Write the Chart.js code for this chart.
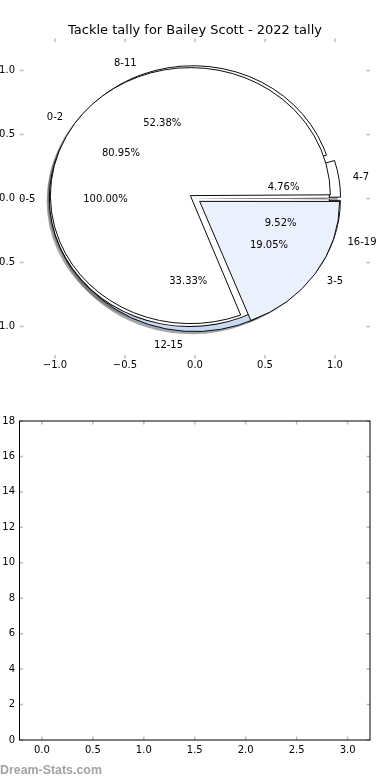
<!DOCTYPE html>
<html lang="en">
<head>
<meta charset="UTF-8" />
<title>Tackle tally for Bailey Scott - 2022 tally</title>
<script src="https://cdn.jsdelivr.net/npm/chart.js"></script>
<style>
  body {
    margin: 0;
    width: 390px;
    height: 780px;
    position: relative;
    overflow: hidden;
    background: #ffffff;
  }
  canvas {
    position: absolute;
    left: 0;
    top: 0;
  }
  #barAxes {
    top: 390px;
  }
  #watermark {
    position: absolute;
    left: 0;
    top: 763px;
    font: bold 12.4px "Liberation Sans", sans-serif;
    line-height: 14px;
    color: #a3a3a3;
  }
</style>
</head>
<body>
  <!-- shadows first, then the three pies in drawing order, then the axes on top -->
  <canvas id="shadowHigh" width="390" height="390"></canvas>
  <canvas id="shadowAll" width="390" height="390"></canvas>
  <canvas id="shadowLow" width="390" height="390"></canvas>
  <canvas id="pieHigh" width="390" height="390"></canvas>
  <canvas id="pieAllRim" width="390" height="390"></canvas>
  <canvas id="pieAll" width="390" height="390"></canvas>
  <canvas id="pieLow" width="390" height="390"></canvas>
  <canvas id="pieAxes" width="390" height="390"></canvas>
  <canvas id="barAxes" width="390" height="390"></canvas>
  <div id="watermark">Dream-Stats.com</div>

<script>
  const chartTitle = "Tackle tally for Bailey Scott - 2022 tally";

  // three pies drawn over each other (games per tackle range, 21 games)
  const allLabels = ["0-5"];
  const allValues = [21];
  const lowLabels = ["0-2", "3-5"];
  const lowValues = [17, 4];
  const highLabels = ["4-7", "8-11", "12-15", "16-19"];
  const highValues = [1, 11, 7, 2];

  const pieTicks = [-1, -0.5, 0, 0.5, 1];
  const barXTicks = [0, 0.5, 1, 1.5, 2, 2.5, 3];
  const barYTicks = [0, 2, 4, 6, 8, 10, 12, 14, 16, 18];

  const allColors = ["#ffffff"];
  const lowColors = ["#ffffff", "#ebf1fc"];
  const highColors = ["#ffffff", "#ffffff", "#c7d9f5", "#ffffff"];

  const FONT = "DejaVu Sans";
  const EXPLODE = 0.04;
  const SHADOW_SHIFT = 0.02;
  const PIE_LIM = 1.25;
  const PIE_PAD = { left: 20, top: 38.5, right: 20, bottom: 31.5 };
  const UNIT_X = (390 - PIE_PAD.left - PIE_PAD.right) / (2 * PIE_LIM);
  const UNIT_Y = (390 - PIE_PAD.top - PIE_PAD.bottom) / (2 * PIE_LIM);
  const SHADOW_PAD = {
    left: PIE_PAD.left - SHADOW_SHIFT * UNIT_X,
    right: PIE_PAD.right + SHADOW_SHIFT * UNIT_X,
    top: PIE_PAD.top + SHADOW_SHIFT * UNIT_Y,
    bottom: PIE_PAD.bottom - SHADOW_SHIFT * UNIT_Y
  };
  const SHADOW = "rgba(77,77,77,0.5)";

  // chart.js grows offset arcs, undo that and squash the pie to the axes aspect
  const pieFix = {
    id: "pieFix",
    beforeDatasetsDraw(chart, args, opts) {
      const a = chart.chartArea;
      const unit = (a.right - a.left) / (2 * PIE_LIM);
      const push = EXPLODE * unit;
      chart.getDatasetMeta(0).data.forEach(arc => {
        const fix = 1 - Math.sin(Math.min(Math.PI, arc.circumference));
        arc.outerRadius = unit + (opts.rim || 0) - push * fix;
      });
      const cy = (a.top + a.bottom) / 2;
      const ctx = chart.ctx;
      ctx.save();
      ctx.translate(0, cy);
      ctx.scale(1, (a.bottom - a.top) / (a.right - a.left));
      ctx.translate(0, -cy);
    },
    afterDatasetsDraw(chart) {
      chart.ctx.restore();
    }
  };

  function makePie(id, labels, values, colors, pad, border, rim) {
    return new Chart(document.getElementById(id), {
      type: "pie",
      data: {
        labels: labels.slice().reverse(),
        datasets: [{
          data: values.slice().reverse(),
          backgroundColor: colors.slice().reverse(),
          borderColor: "#000000",
          borderWidth: border,
          rotation: 90,
          radius: UNIT_X,
          offset: 4 * EXPLODE * UNIT_X
        }]
      },
      options: {
        responsive: false,
        animation: false,
        events: [],
        layout: { padding: pad },
        plugins: {
          legend: { display: false },
          tooltip: { enabled: false },
          pieFix: { rim: rim }
        }
      },
      plugins: [pieFix]
    });
  }

  const shade = arr => arr.map(() => SHADOW);

  makePie("shadowHigh", highLabels, highValues, shade(highValues), SHADOW_PAD, 0, 0);
  makePie("shadowAll", allLabels, allValues, shade(allValues), SHADOW_PAD, 0, 0);
  makePie("shadowLow", lowLabels, lowValues, shade(lowValues), SHADOW_PAD, 0, 0);
  makePie("pieHigh", highLabels, highValues, highColors, PIE_PAD, 1, 0);
  // full circle: black disc under a white one gives the outline without a seam
  makePie("pieAllRim", allLabels, allValues, ["#000000"], PIE_PAD, 0, 0.5);
  makePie("pieAll", allLabels, allValues, allColors, PIE_PAD, 0, -0.5);
  makePie("pieLow", lowLabels, lowValues, lowColors, PIE_PAD, 1, 0);

  const innerTicks = {
    id: "innerTicks",
    afterDraw(chart, args, opts) {
      const { ctx, chartArea: a, scales } = chart;
      ctx.save();
      ctx.strokeStyle = opts.color;
      ctx.lineWidth = opts.width;
      ctx.beginPath();
      scales.x.ticks.forEach(t => {
        const px = scales.x.getPixelForValue(t.value);
        ctx.moveTo(px, a.top);
        ctx.lineTo(px, a.top + opts.len);
        ctx.moveTo(px, a.bottom);
        ctx.lineTo(px, a.bottom - opts.len);
      });
      scales.y.ticks.forEach(t => {
        const py = scales.y.getPixelForValue(t.value);
        ctx.moveTo(a.left, py);
        ctx.lineTo(a.left + opts.len, py);
        ctx.moveTo(a.right, py);
        ctx.lineTo(a.right - opts.len, py);
      });
      ctx.stroke();
      if (opts.frame) {
        ctx.strokeStyle = "#000000";
        ctx.lineWidth = 1;
        ctx.strokeRect(a.left, a.top, a.right - a.left, a.bottom - a.top);
      }
      ctx.restore();
    }
  };

  const pieText = {
    id: "pieText",
    afterDraw(chart) {
      const { ctx, scales: { x, y } } = chart;
      ctx.save();
      ctx.font = `10px "${FONT}"`;
      ctx.fillStyle = "#000000";
      ctx.textBaseline = "middle";
      [[allLabels, allValues], [lowLabels, lowValues], [highLabels, highValues]].forEach(([labels, values]) => {
        const total = values.reduce((s, v) => s + v, 0);
        let cum = 0;
        values.forEach((v, i) => {
          const mid = 2 * Math.PI * (cum + v / 2) / total;
          cum += v;
          const cx = Math.cos(mid), cy = Math.sin(mid);
          const lr = EXPLODE + 1.1, pr = EXPLODE + 0.6;
          ctx.textAlign = cx > 0 ? "left" : "right";
          ctx.fillText(labels[i], x.getPixelForValue(lr * cx), y.getPixelForValue(lr * cy) + 1);
          ctx.textAlign = "center";
          ctx.fillText((100 * v / total).toFixed(2) + "%", x.getPixelForValue(pr * cx), y.getPixelForValue(pr * cy) + 1);
        });
      });
      ctx.restore();
    }
  };

  const tickFont = { family: FONT, size: 10 };
  const fmt1 = v => v.toFixed(1).replace("-", "\u2212");
  const hiddenRight = {
    type: "linear",
    position: "right",
    grid: { display: false },
    border: { display: false },
    ticks: { display: false },
    afterFit: s => { s.width = 20; }
  };

  new Chart(document.getElementById("pieAxes"), {
    type: "scatter",
    data: { datasets: [] },
    options: {
      responsive: false,
      animation: false,
      events: [],
      plugins: {
        legend: { display: false },
        tooltip: { enabled: false },
        title: {
          display: true,
          text: chartTitle,
          color: "#000000",
          font: { family: FONT, size: 13, weight: "normal" },
          padding: { top: 22.9, bottom: 0 }
        },
        innerTicks: { color: "#bdbdbd", width: 1.5, len: 3.5, frame: false }
      },
      scales: {
        x: {
          type: "linear",
          min: -PIE_LIM,
          max: PIE_LIM,
          afterBuildTicks: s => { s.ticks = pieTicks.map(v => ({ value: v })); },
          afterFit: s => { s.height = 31.5; },
          grid: { display: false, drawTicks: false },
          border: { display: false },
          ticks: { color: "#000000", font: tickFont, padding: 1, maxRotation: 0, autoSkip: false, callback: fmt1 }
        },
        y: {
          type: "linear",
          position: "left",
          min: -PIE_LIM,
          max: PIE_LIM,
          afterBuildTicks: s => { s.ticks = pieTicks.map(v => ({ value: v })); },
          afterFit: s => { s.width = 20; },
          grid: { display: false, drawTicks: false },
          border: { display: false },
          ticks: { color: "#000000", font: tickFont, padding: 5, autoSkip: false, callback: fmt1 }
        },
        y2: hiddenRight
      }
    },
    plugins: [innerTicks, pieText]
  });

  new Chart(document.getElementById("barAxes"), {
    type: "scatter",
    data: { datasets: [] },
    options: {
      responsive: false,
      animation: false,
      events: [],
      layout: { padding: { top: 31 } },
      plugins: {
        legend: { display: false },
        tooltip: { enabled: false },
        innerTicks: { color: "#bdbdbd", width: 1.5, len: 3.5, frame: true }
      },
      scales: {
        x: {
          type: "linear",
          min: -0.22,
          max: 3.22,
          afterBuildTicks: s => { s.ticks = barXTicks.map(v => ({ value: v })); },
          afterFit: s => { s.height = 40; },
          grid: { display: false, drawTicks: false },
          border: { display: false },
          ticks: { color: "#000000", font: tickFont, padding: 4.5, maxRotation: 0, autoSkip: false, callback: fmt1 }
        },
        y: {
          type: "linear",
          position: "left",
          min: 0,
          max: 18,
          afterBuildTicks: s => { s.ticks = barYTicks.map(v => ({ value: v })); },
          afterFit: s => { s.width = 19.5; },
          grid: { display: false, drawTicks: false },
          border: { display: false },
          ticks: { color: "#000000", font: tickFont, padding: 4.5, autoSkip: false, callback: v => String(v) }
        },
        y2: hiddenRight
      }
    },
    plugins: [innerTicks]
  });
</script>
</body>
</html>
